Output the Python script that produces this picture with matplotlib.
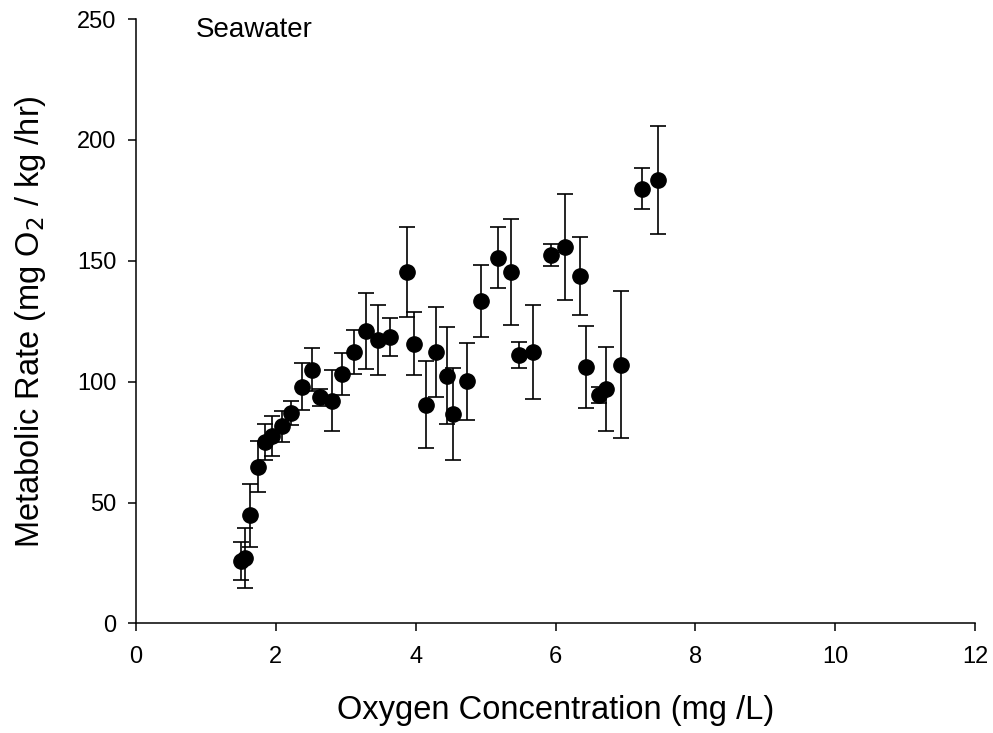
"""Metabolic rate vs oxygen concentration (seawater)."""

import matplotlib.pyplot as plt

plt.rcParams["font.family"] = ["Liberation Sans", "DejaVu Sans"]

oxygen = [1.50, 1.56, 1.63, 1.74, 1.85, 1.95, 2.09, 2.22, 2.37, 2.52,
          2.63, 2.80, 2.94, 3.11, 3.29, 3.46, 3.63, 3.88, 3.97, 4.14,
          4.29, 4.44, 4.54, 4.73, 4.93, 5.17, 5.36, 5.48, 5.68, 5.93,
          6.13, 6.35, 6.44, 6.62, 6.72, 6.94, 7.24, 7.47]
rate = [25.8, 27.2, 44.7, 64.8, 75.0, 77.6, 81.6, 87.1, 98.0, 105.0,
        93.5, 92.2, 103.2, 112.3, 121.0, 117.4, 118.6, 145.5, 115.7, 90.5,
        112.3, 102.5, 86.5, 100.1, 133.4, 151.3, 145.5, 111.1, 112.2, 152.4,
        155.8, 143.7, 106.0, 94.5, 97.0, 107.1, 179.9, 183.3]
err = [8.0, 12.5, 13.0, 10.5, 7.5, 8.4, 6.4, 5.0, 9.7, 9.0,
       3.6, 12.6, 8.5, 9.2, 15.7, 14.5, 7.8, 18.6, 13.0, 18.0,
       18.7, 20.0, 19.0, 16.0, 15.0, 12.5, 22.0, 5.4, 19.5, 4.5,
       22.0, 16.0, 17.0, 3.5, 17.4, 30.4, 8.3, 22.4]

fig = plt.figure(figsize=(9.93, 7.33), dpi=100)
ax = fig.add_axes([0.137, 0.1494, 0.845, 0.8246])

ax.errorbar(oxygen, rate, yerr=err, fmt="o", color="black",
            markersize=11, elinewidth=1.2, capsize=6, capthick=1.2)

ax.set_xlim(0, 12)
ax.set_ylim(0, 250)
ax.set_xticks(range(0, 13, 2))
ax.set_yticks(range(0, 251, 50))
ax.spines["top"].set_visible(False)
ax.spines["right"].set_visible(False)
for s in ("left", "bottom"):
    ax.spines[s].set_linewidth(1.1)
ax.tick_params(direction="out", length=6, width=1.1, labelsize=17)
ax.tick_params(axis="x", pad=10)
ax.tick_params(axis="y", pad=8)

ax.set_xlabel("Oxygen Concentration (mg /L)", fontsize=23.5, labelpad=20)
ax.set_ylabel("Metabolic Rate (mg O$_2$ / kg /hr)", fontsize=23.5, labelpad=21)
ax.text(0.0715, 0.982, "Seawater", transform=ax.transAxes,
        fontsize=20, va="center", ha="left")

fig.savefig("out.png", dpi=100)
